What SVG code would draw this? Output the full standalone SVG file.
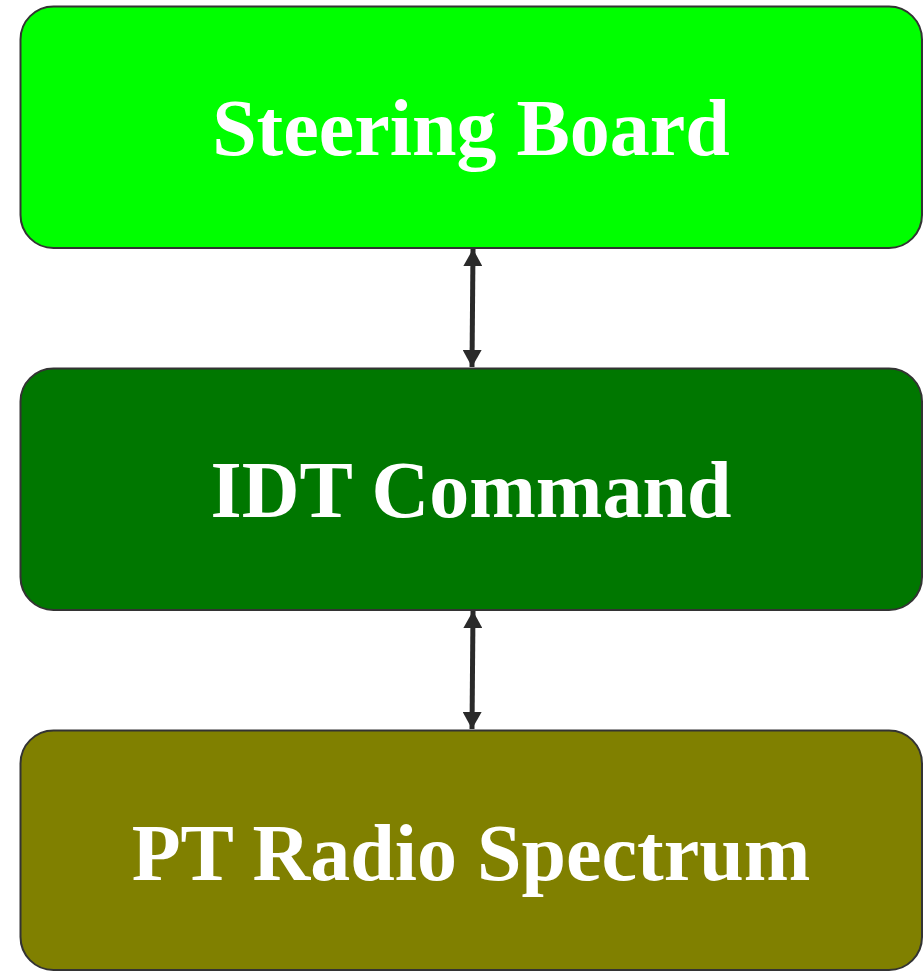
<svg xmlns="http://www.w3.org/2000/svg" width="923" height="971" viewBox="0 0 923 971">
<style>
.box{stroke:#333333;stroke-width:2}
.lbl{font-family:"Liberation Serif","Times New Roman",serif;font-weight:bold;font-size:80px;fill:#ffffff;text-anchor:middle}
.conn{stroke:#2a2a2a;stroke-width:5;fill:none}
</style>
<defs>
<marker id="ah" viewBox="0 0 17 19" refX="17" refY="9.5" markerWidth="17" markerHeight="19" orient="auto-start-reverse" markerUnits="userSpaceOnUse">
<path d="M0,0 L17,9.5 L0,19 Z" fill="#2a2a2a"/>
</marker>
</defs>
<g id="n1"><rect class="box" x="20.5" y="6.5" width="901.5" height="241.5" rx="33" ry="33" fill="#00ff00"/><text class="lbl" x="471" y="155">Steering Board</text></g>
<g id="n2"><rect class="box" x="20.5" y="368.5" width="901.5" height="241.5" rx="33" ry="33" fill="#007700"/><text class="lbl" x="471" y="517">IDT Command</text></g>
<g id="n3"><rect class="box" x="20.5" y="730.5" width="901.5" height="239.5" rx="33" ry="33" fill="#808000"/><text class="lbl" x="471" y="880">PT Radio Spectrum</text></g>
<g id="connectors">
<line class="conn" x1="473" y1="249" x2="472" y2="367" marker-start="url(#ah)" marker-end="url(#ah)"/>
<line class="conn" x1="473" y1="611" x2="472" y2="729" marker-start="url(#ah)" marker-end="url(#ah)"/>
</g>
</svg>
